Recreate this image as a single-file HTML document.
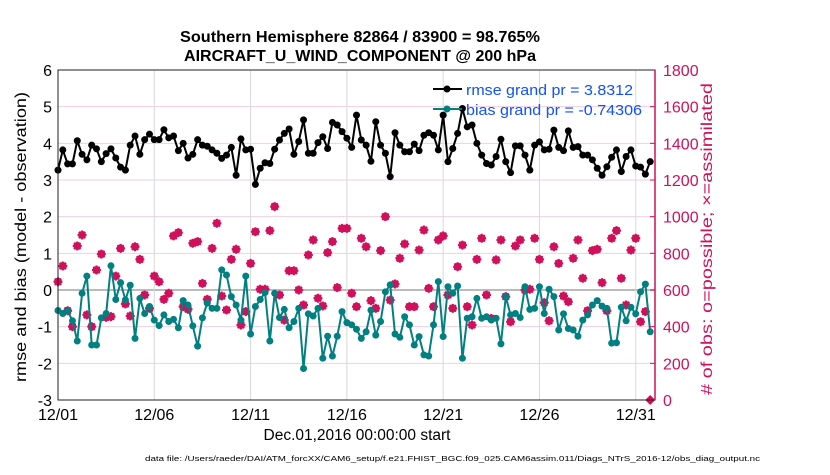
<!DOCTYPE html>
<html><head><meta charset="utf-8"><style>
body{margin:0;background:#fff;width:830px;height:470px;overflow:hidden;font-family:"Liberation Sans",Arial,sans-serif}
</style></head><body>
<svg id="chart" width="830" height="470" xmlns="http://www.w3.org/2000/svg" font-family="Liberation Sans, Arial, sans-serif">
<g id="grid"></g>
<g id="series"></g>
<g id="axes"></g>
<text x="180" y="42" textLength="360" lengthAdjust="spacingAndGlyphs" font-size="15.5" font-weight="bold">Southern Hemisphere 82864 / 83900 = 98.765%</text>
<text x="184" y="61" textLength="352" lengthAdjust="spacingAndGlyphs" font-size="15.5" font-weight="bold">AIRCRAFT_U_WIND_COMPONENT @ 200 hPa</text>
<text transform="translate(26,382) rotate(-90)" textLength="290" lengthAdjust="spacingAndGlyphs" font-size="16">rmse and bias (model - observation)</text>
<text transform="translate(712,395) rotate(-90)" textLength="312" lengthAdjust="spacingAndGlyphs" font-size="16" fill="#d0105a">#  of obs: o=possible; ×=assimilated</text>
<text x="357" y="440" text-anchor="middle" font-size="15.5">Dec.01,2016 00:00:00 start</text>
<text x="145" y="461" textLength="615" lengthAdjust="spacingAndGlyphs" font-size="7.5">data file: /Users/raeder/DAI/ATM_forcXX/CAM6_setup/f.e21.FHIST_BGC.f09_025.CAM6assim.011/Diags_NTrS_2016-12/obs_diag_output.nc</text>
<g>
<line x1="433" y1="89" x2="462" y2="89" stroke="#000" stroke-width="2"/><circle cx="447" cy="89" r="3.5" fill="#000"/>
<text x="466" y="95" textLength="167" lengthAdjust="spacingAndGlyphs" font-size="15" fill="#1050ff">rmse grand pr = 3.8312</text>
<line x1="433" y1="109" x2="462" y2="109" stroke="#008080" stroke-width="2"/><circle cx="447" cy="109" r="3.5" fill="#008080"/>
<text x="466" y="115" textLength="176" lengthAdjust="spacingAndGlyphs" font-size="15" fill="#1050ff">bias grand pr = -0.74306</text>
</g>
</svg>
<script>
const rmse=[3.27,3.82,3.44,3.44,4.07,3.7,3.55,3.95,3.85,3.5,3.72,3.85,3.6,3.35,3.27,3.95,4.2,3.7,4.1,4.25,4.1,4.1,4.37,4.15,4.2,3.8,4.0,3.6,3.7,4.1,3.95,3.92,
3.82,3.73,3.59,3.68,3.89,3.13,4.12,3.82,3.84,2.88,3.32,3.47,3.45,3.84,4.09,4.27,4.39,3.7,4.05,4.64,3.73,3.73,4.02,4.18,3.86,4.57,4.5,4.32,4.14,3.89,4.77,
4.09,3.95,3.51,4.59,3.95,3.73,3.09,4.29,3.95,3.77,3.77,3.98,3.8,4.22,4.29,4.22,3.82,4.77,3.5,3.86,4.27,4.95,4.45,4.5,4.0,3.68,3.45,3.41,3.64,4.11,3.5,
3.2,3.93,3.93,3.68,3.27,3.95,4.04,3.82,3.84,4.36,3.89,3.8,4.34,3.89,3.91,3.68,3.68,3.55,3.32,3.13,3.36,3.62,3.82,3.23,3.64,3.82,3.38,3.35,3.16,3.5];
const bias=[-0.56,-0.64,-0.56,-0.84,-1.39,-0.09,0.38,-1.5,-1.5,-0.76,-0.64,0.66,-0.26,0.2,-0.27,0.13,-1.32,-0.23,-0.64,-0.45,-0.82,-0.97,-0.68,-0.86,-0.8,-1.03,-0.29,-0.41,-0.98,-1.53,-0.76,-0.36,
-0.5,-0.5,0.55,0.41,-0.18,-0.41,-0.82,0.38,-1.2,-0.45,-0.26,-0.07,-1.39,-0.09,-0.75,-0.53,-1.03,-0.86,-0.5,-2.14,-0.65,-0.71,-0.5,-1.86,-1.26,-1.8,-1.26,-0.59,-0.89,-0.95,-1.07,
-1.32,-1.14,-0.55,-1.23,-0.86,-0.05,0.14,-1.2,-1.29,-0.73,-0.95,-1.5,-1.27,-1.77,-1.8,-0.95,0.23,-1.27,0.09,-0.09,0.11,-1.86,-0.77,-0.73,-0.23,-0.77,-0.73,-0.82,-0.77,-1.47,-0.18,
-0.68,-0.64,-0.75,0.09,-0.53,-0.5,0.09,-0.64,0.02,-0.18,-1.09,-0.65,-1.05,-1.09,-1.26,-0.82,-0.68,-0.41,-0.29,-0.44,-0.5,-1.45,-1.44,-0.47,-0.84,-0.47,-0.65,-0.05,0.16,-1.14];
const obsCount=[645,731,487,400,840,900,464,400,709,796,451,455,676,827,524,458,836,767,573,500,676,645,549,582,895,913,509,495,855,864,636,549,
827,964,567,491,767,822,409,482,745,918,604,604,924,1055,573,436,705,705,600,518,791,873,555,513,804,864,613,936,936,582,
509,882,836,542,500,815,1000,545,633,773,851,509,509,818,927,609,509,873,895,573,500,727,845,509,409,767,882,573,445,764,873,
564,427,840,873,600,604,882,767,531,432,836,745,567,536,773,873,664,487,815,822,640,487,882,924,664,518,818,882,427,482,0];
const leftTicks=[-3,-2,-1,0,1,2,3,4,5,6];
const rightTicks=[0,200,400,600,800,1000,1200,1400,1600,1800];
const dateTicks=["12/01","12/06","12/11","12/16","12/21","12/26","12/31"];
const dateTickDays=[0,5,10,15,20,25,30];

const X0=58,X1=655,Y0=70,Y1=400;
const xDay=d=>X0+(X1-X0)*d/31;
const xIdx=i=>xDay(i*0.25);
const yL=v=>Y1-(v+3)/9*(Y1-Y0);
const yR=v=>Y1-v/1800*(Y1-Y0);
const NS="http://www.w3.org/2000/svg";
function mk(tag,attrs,parent){const e=document.createElementNS(NS,tag);for(const k in attrs)e.setAttribute(k,attrs[k]);parent.appendChild(e);return e;}
const grid=document.getElementById('grid'),ser=document.getElementById('series'),ax=document.getElementById('axes');

leftTicks.forEach(v=>{
  const l=mk('line',{x1:X0,x2:X1,y1:yL(v),y2:yL(v),stroke:v===0?'#bbbbbb':'#f3cfe0','stroke-width':v===0?2:1},grid);
  
  
  const t=mk('text',{x:X0-6,y:yL(v)+6,'text-anchor':'end','font-size':16},ax);
  t.textContent=v;
  
  
});
rightTicks.forEach(v=>{
  const t=mk('text',{x:X1+8,y:yR(v)+6,'font-size':16,fill:'#d0105a'},ax);
  t.textContent=v;
  
  
  mk('line',{x1:X1-5,x2:X1,y1:yR(v),y2:yR(v),stroke:'#d0105a'},ax);
});
dateTicks.forEach((s,k)=>{
  const x=xDay(dateTickDays[k]);
  if(k>0){const l=mk('line',{x1:x,x2:x,y1:Y0,y2:Y1,stroke:'#d8d8d8'},grid);
  
  }
  const t=mk('text',{x:x,y:Y1+20,'text-anchor':'middle','font-size':16},ax);
  t.textContent=s;
  
  
});
mk('rect',{x:X0,y:Y0,width:X1-X0,height:Y1-Y0,fill:'none',stroke:'#222','stroke-width':1},ax);
mk('line',{x1:X1,x2:X1,y1:Y0,y2:Y1,stroke:'#d0105a','stroke-width':1.5},ax);

obsCount.forEach((c,i)=>{
  const x=xIdx(i),y=yR(c);
  const g=mk('g',{},ser);
  
  
  if(c===0){mk('path',{d:`M${x-5},${y}L${x},${y-5}L${x+5},${y}L${x},${y+5}Z`,fill:'#d0105a'},g);return;}
  mk('circle',{cx:x,cy:y,r:3.2,fill:'none',stroke:'#d0105a','stroke-width':1.5},g);
  const r=4.5;
  mk('path',{d:`M${x-r},${y}H${x+r}M${x},${y-r}V${y+r}M${x-3.2},${y-3.2}L${x+3.2},${y+3.2}M${x-3.2},${y+3.2}L${x+3.2},${y-3.2}`,stroke:'#d0105a','stroke-width':2},g);
});
function line(arr,col,name){
  const p=mk('polyline',{points:arr.map((v,i)=>xIdx(i)+','+yL(v)).join(' '),fill:'none',stroke:col,'stroke-width':2},ser);
  
  
  arr.forEach((v,i)=>{
    const c=mk('circle',{cx:xIdx(i),cy:yL(v),r:3.5,fill:col},ser);
    
    
  });
}
line(bias,'#008080','bias');
line(rmse,'#000000','rmse');
</script>
</body></html>
